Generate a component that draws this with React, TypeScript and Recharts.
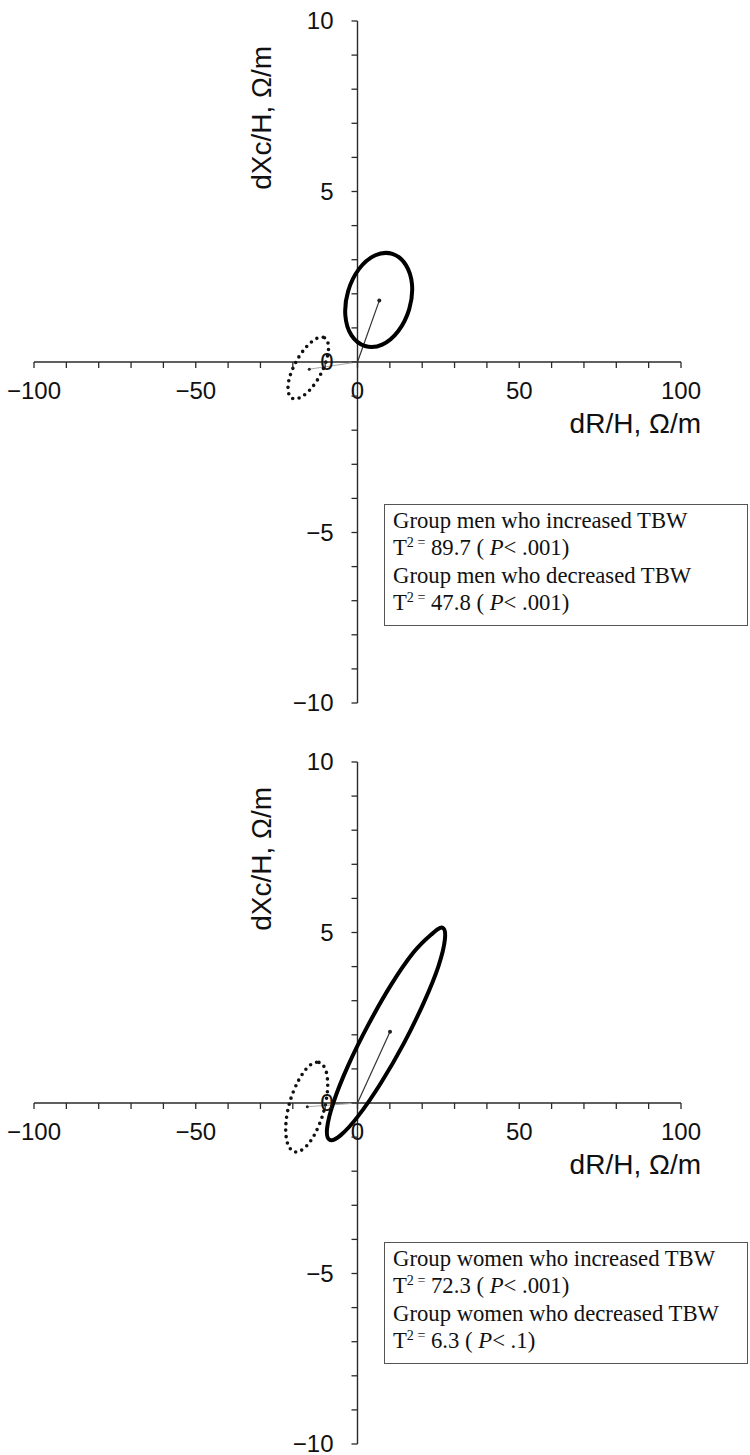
import { ComposedChart, Line, ReferenceLine, XAxis, YAxis } from "recharts";

const xTicks = [-100, -90, -80, -70, -60, -50, -40, -30, -20, -10, 0, 10, 20, 30, 40, 50, 60, 70, 80, 90, 100];
const yTicks = [-10, -9, -8, -7, -6, -5, -4, -3, -2, -1, 0, 1, 2, 3, 4, 5, 6, 7, 8, 9, 10];
const xLabelTicks = [-100, -50, 0, 50, 100];
const yLabelTicks = [-10, -5, 0, 5, 10];

// ellipse outlines (dR/H, dXc/H)
const menIncreased = [
  { x: 10.79, y: 3.17 }, { x: 14.93, y: 2.85 }, { x: 16.86, y: 2.26 }, { x: 15.99, y: 1.55 },
  { x: 12.62, y: 0.91 }, { x: 7.63, y: 0.51 }, { x: 2.32, y: 0.47 }, { x: -1.85, y: 0.78 },
  { x: -3.76, y: 1.37 }, { x: -2.89, y: 2.08 }, { x: 0.49, y: 2.73 }, { x: 5.51, y: 3.13 },
];
const menIncreasedMean = [{ x: 0, y: 0 }, { x: 6.74, y: 1.8 }];

const menDecreased = [
  { x: -10.2, y: 0.71 }, { x: -8.99, y: 0.49 }, { x: -9.46, y: 0.1 }, { x: -11.44, y: -0.37 },
  { x: -14.44, y: -0.79 }, { x: -17.68, y: -1.04 }, { x: -20.25, y: -1.06 }, { x: -21.45, y: -0.84 },
  { x: -20.99, y: -0.45 }, { x: -18.92, y: 0.02 }, { x: -15.86, y: 0.44 }, { x: -12.63, y: 0.69 },
];
const menDecreasedMean = [{ x: 0, y: 0 }, { x: -14.9, y: -0.21 }];

const womenIncreased = [
  { x: 26.24, y: 5.14 }, { x: 27.02, y: 4.8 }, { x: 25.01, y: 4.01 }, { x: 20.56, y: 2.96 },
  { x: 14.28, y: 1.74 }, { x: 7.19, y: 0.58 }, { x: 0.31, y: -0.37 }, { x: -5.26, y: -0.95 },
  { x: -8.63, y: -1.08 }, { x: -9.4, y: -0.74 }, { x: -7.42, y: 0.02 }, { x: -2.94, y: 1.09 },
  { x: 3.32, y: 2.29 }, { x: 10.42, y: 3.47 }, { x: 17.28, y: 4.41 }, { x: 22.81, y: 4.94 },
];
const womenIncreasedMean = [{ x: 0, y: 0 }, { x: 10.05, y: 2.09 }];

const womenDecreased = [
  { x: -11.9, y: 1.19 }, { x: -9.77, y: 0.95 }, { x: -9.24, y: 0.42 }, { x: -10.44, y: -0.25 },
  { x: -13.07, y: -0.89 }, { x: -16.38, y: -1.32 }, { x: -19.5, y: -1.43 }, { x: -21.64, y: -1.18 },
  { x: -22.16, y: -0.65 }, { x: -20.96, y: 0.02 }, { x: -18.24, y: 0.66 }, { x: -14.93, y: 1.09 },
];
const womenDecreasedMean = [{ x: 0, y: 0 }, { x: -15.52, y: -0.11 }];

const menLegend = [
  { group: "Group men who increased TBW", t2: "89.7", p: ".001" },
  { group: "Group men who decreased TBW", t2: "47.8", p: ".001" },
];
const womenLegend = [
  { group: "Group women who increased TBW", t2: "72.3", p: ".001" },
  { group: "Group women who decreased TBW", t2: "6.3", p: ".1" },
];

const W = 750;
const H = 742;
const M = { top: 21, right: 69, bottom: 38, left: 33 };
// plot area: axes are 1px wide/high
const PL = M.left + 1;
const PB = H - M.bottom - 1;
const X0 = PL + (W - M.right - PL) / 2;
const Y0 = M.top + (PB - M.top) / 2;
const AXIS = "#2a2a2a";
const SANS = "'Liberation Sans', Arial, sans-serif";

const fmt = (v: number) => (v < 0 ? `\u2212${-v}` : `${v}`);

// closed catmull-rom, passes through every read point
const closedCurve = (context: any) => {
  let pts: number[][] = [];
  return {
    areaStart() {},
    areaEnd() {},
    lineStart() {
      pts = [];
    },
    point(x: number, y: number) {
      pts.push([+x, +y]);
    },
    lineEnd() {
      const n = pts.length;
      if (n < 3) return;
      context.moveTo(pts[0][0], pts[0][1]);
      for (let i = 0; i < n; i++) {
        const p0 = pts[(i + n - 1) % n];
        const p1 = pts[i];
        const p2 = pts[(i + 1) % n];
        const p3 = pts[(i + 2) % n];
        context.bezierCurveTo(
          p1[0] + (p2[0] - p0[0]) / 6,
          p1[1] + (p2[1] - p0[1]) / 6,
          p2[0] - (p3[0] - p1[0]) / 6,
          p2[1] - (p3[1] - p1[1]) / 6,
          p2[0],
          p2[1]
        );
      }
      context.closePath();
    },
  };
};

const XTick = (props: any) => {
  const { x, payload } = props;
  const v = payload.value;
  return (
    <g>
      <line x1={x} x2={x} y1={Y0} y2={Y0 + 6} stroke={AXIS} strokeWidth={1.3} />
      {xLabelTicks.includes(v) && (
        <text x={x} y={Y0 + 37} textAnchor="middle" fontSize={24} fontFamily={SANS} fill="#111">
          {fmt(v)}
        </text>
      )}
    </g>
  );
};

const YTick = (props: any) => {
  const { y, payload } = props;
  const v = payload.value;
  return (
    <g>
      <line x1={X0 - 6} x2={X0} y1={y} y2={y} stroke={AXIS} strokeWidth={1.3} />
      {yLabelTicks.includes(v) && (
        <text x={X0 - 24} y={y + 8} textAnchor="end" fontSize={24} fontFamily={SANS} fill="#111">
          {fmt(v)}
        </text>
      )}
    </g>
  );
};

const endDot = (r: number) => (p: any) =>
  p.index === 1 ? (
    <circle key={p.index} cx={p.cx} cy={p.cy} r={r} fill="#222" />
  ) : (
    <g key={p.index} />
  );

type Pt = { x: number; y: number };
type Leg = { group: string; t2: string; p: string };

function Panel(props: {
  top: number;
  increased: Pt[];
  increasedMean: Pt[];
  decreased: Pt[];
  decreasedMean: Pt[];
  legend: Leg[];
  legendTop: number;
}) {
  return (
    <div style={{ position: "absolute", left: 0, top: props.top, width: W, height: H }}>
      <ComposedChart width={W} height={H} margin={M}>
        <XAxis
          type="number"
          dataKey="x"
          domain={[-100, 100]}
          ticks={xTicks}
          interval={0}
          height={1}
          axisLine={false}
          tickLine={false}
          tick={XTick}
        />
        <YAxis
          type="number"
          domain={[-10, 10]}
          ticks={yTicks}
          interval={0}
          width={1}
          axisLine={false}
          tickLine={false}
          tick={YTick}
        />
        <ReferenceLine y={0} stroke={AXIS} strokeWidth={1.4} />
        <ReferenceLine x={0} stroke={AXIS} strokeWidth={1.4} />
        <Line
          data={props.decreasedMean}
          dataKey="y"
          type="linear"
          stroke="#aaa"
          strokeWidth={1}
          dot={endDot(1.5)}
          activeDot={false}
          isAnimationActive={false}
        />
        <Line
          data={props.decreased}
          dataKey="y"
          type={closedCurve as any}
          stroke="#111"
          strokeWidth={3.6}
          strokeDasharray="0 6.5"
          strokeLinecap="round"
          dot={false}
          activeDot={false}
          isAnimationActive={false}
        />
        <Line
          data={props.increasedMean}
          dataKey="y"
          type="linear"
          stroke="#333"
          strokeWidth={1.2}
          dot={endDot(2)}
          activeDot={false}
          isAnimationActive={false}
        />
        <Line
          data={props.increased}
          dataKey="y"
          type={closedCurve as any}
          stroke="#000"
          strokeWidth={4}
          dot={false}
          activeDot={false}
          isAnimationActive={false}
        />
      </ComposedChart>
      <svg width={W} height={H} style={{ position: "absolute", left: 0, top: 0, pointerEvents: "none" }}>
        <text x={701} y={433} textAnchor="end" fontSize={28} fontFamily={SANS} fill="#111">
          dR/H, Ω/m
        </text>
        <text
          x={271}
          y={46}
          textAnchor="end"
          fontSize={28}
          fontFamily={SANS}
          fill="#111"
          transform="rotate(-90 271 46)"
        >
          dXc/H, Ω/m
        </text>
      </svg>
      <div
        style={{
          position: "absolute",
          left: 384,
          top: props.legendTop,
          width: 364,
          height: 122,
          border: "1.5px solid #555",
          boxSizing: "border-box",
          padding: "2px 0 0 8px",
          fontFamily: "'Liberation Serif', 'Times New Roman', serif",
          fontSize: 22.7,
          lineHeight: "27.4px",
          color: "#111",
          background: "#fff",
        }}
      >
        {props.legend.map((l) => (
          <div key={l.group}>
            <div>{l.group}</div>
            <div>
              T
              <sup style={{ fontSize: "0.62em", verticalAlign: "0.55em", lineHeight: 0 }}>2 =</sup> {l.t2} ({" "}
              <i>P</i>&lt; {l.p})
            </div>
          </div>
        ))}
      </div>
    </div>
  );
}

export default function App() {
  return (
    <div style={{ position: "absolute", left: 0, top: 0, width: 750, height: 1455, background: "#fff" }}>
      <Panel
        top={0}
        increased={menIncreased}
        increasedMean={menIncreasedMean}
        decreased={menDecreased}
        decreasedMean={menDecreasedMean}
        legend={menLegend}
        legendTop={504}
      />
      <Panel
        top={741}
        increased={womenIncreased}
        increasedMean={womenIncreasedMean}
        decreased={womenDecreased}
        decreasedMean={womenDecreasedMean}
        legend={womenLegend}
        legendTop={501}
      />
    </div>
  );
}
